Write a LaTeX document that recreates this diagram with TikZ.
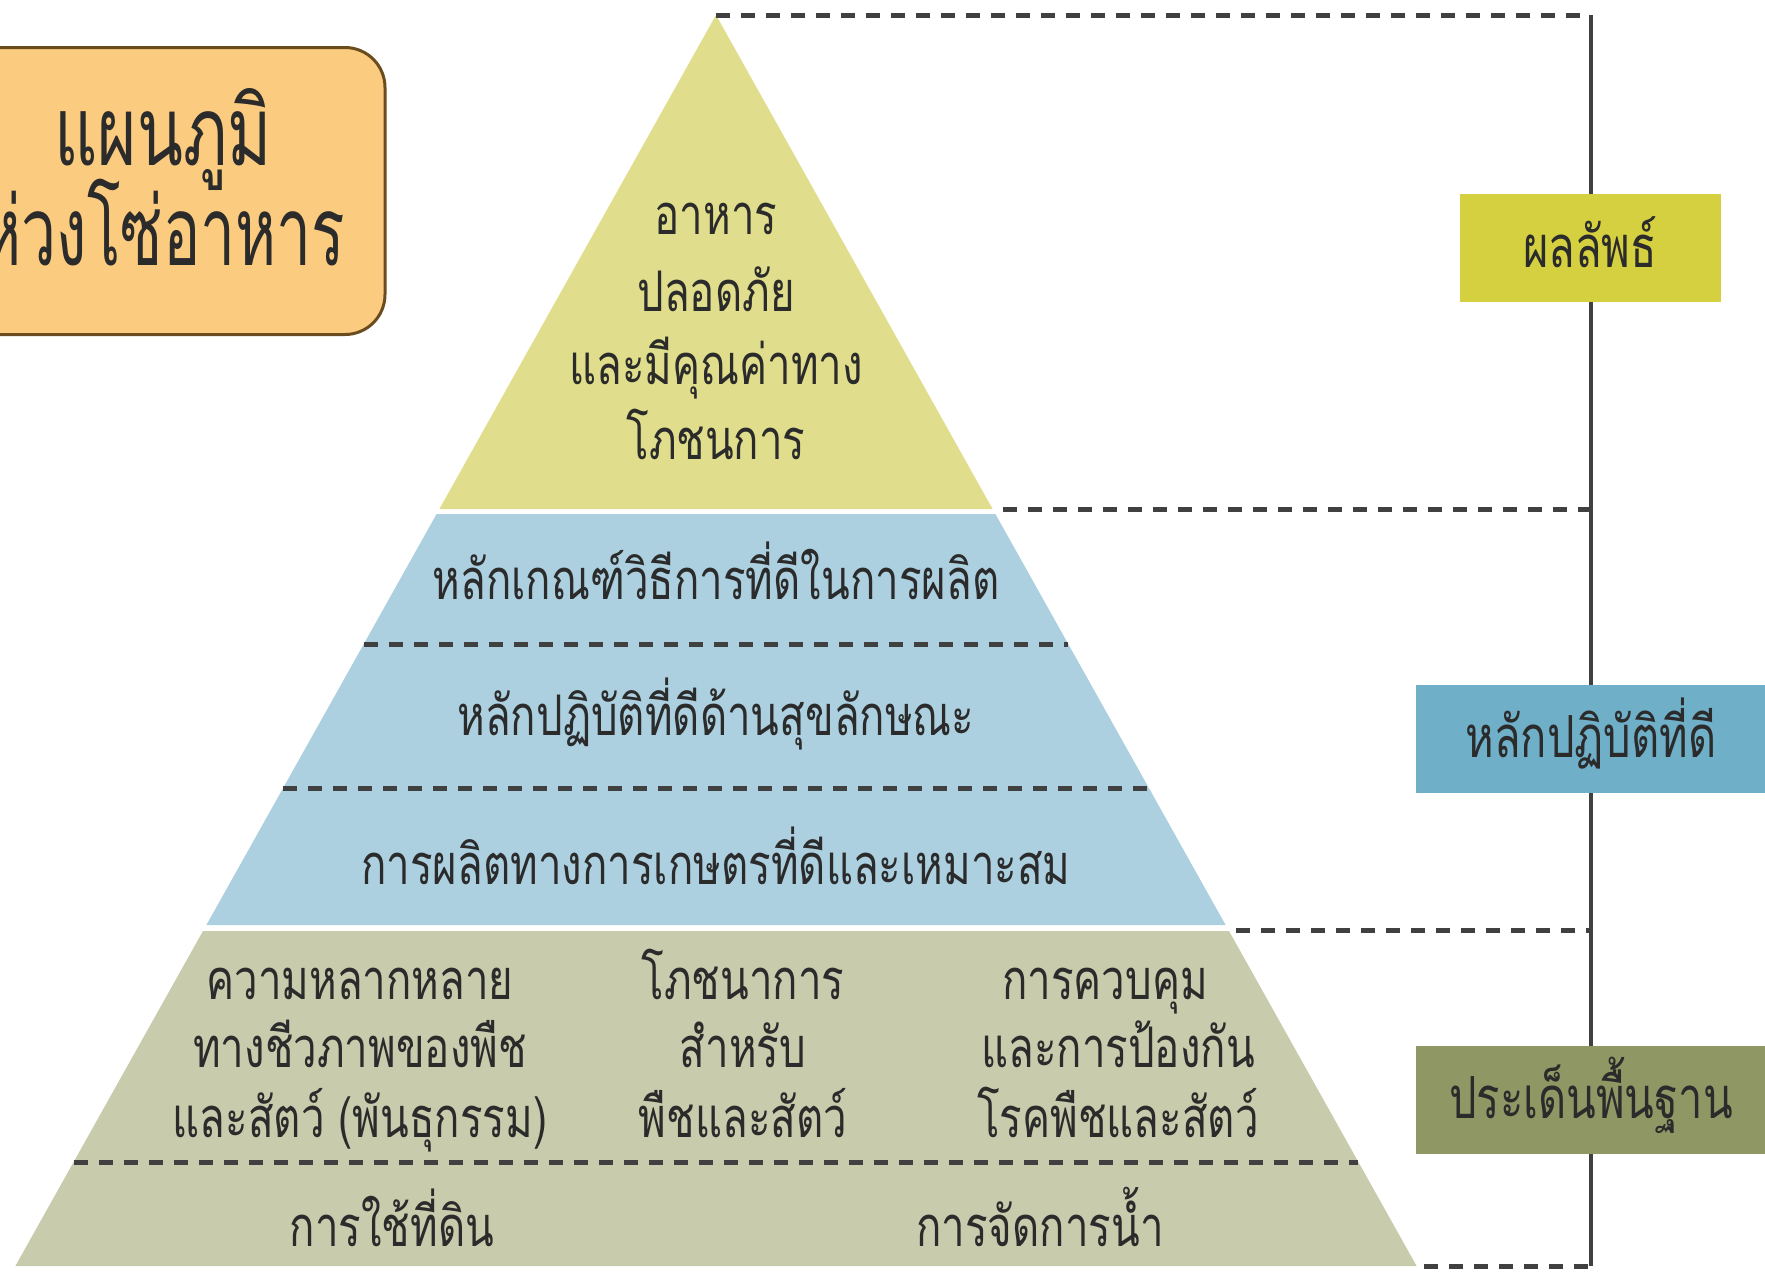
\documentclass[tikz,border=0pt]{standalone}
\usepackage{fontspec}
\newfontfamily\thaibody[Script=Thai,FakeStretch=0.75]{Loma}
\newfontfamily\thaititle[Script=Thai,FakeStretch=0.7]{Loma}
\newfontfamily\thaititlenarrow[Script=Thai,FakeStretch=0.65]{Loma}
\definecolor{ylw}{HTML}{E0DE8C}
\definecolor{blu}{HTML}{ACD0E0}
\definecolor{olv}{HTML}{C8CBAC}
\definecolor{ylwbox}{HTML}{D4D040}
\definecolor{blubox}{HTML}{6FAFC8}
\definecolor{olvbox}{HTML}{8F9864}
\definecolor{ttlfill}{HTML}{FBCC80}
\definecolor{ttlline}{HTML}{6B4C1E}
\definecolor{txt}{HTML}{2B2B2B}
\definecolor{dsh}{HTML}{404040}
\tikzset{
  body/.style={font=\thaibody\fontsize{56}{74}\selectfont, text=txt, anchor=base, inner sep=0pt},
  ttl/.style={font=\thaititle\fontsize{96}{102}\selectfont, text=txt, anchor=base, inner sep=0pt},
  lblbox/.style={minimum height=108pt, inner sep=0pt},
  dline/.style={draw=dsh, line width=5pt, dash pattern=on 14pt off 11pt},
}
\begin{document}
\begin{tikzpicture}[x=1pt,y=-1pt]
\useasboundingbox[fill=white] (0,0) rectangle (1765,1272);
% pyramid bands
\fill[ylw] (716,15) -- (439.4,509) -- (992.6,509) -- cycle;
\fill[blu] (436.6,514) -- (995.4,514) -- (1225.6,925) -- (206.4,925) -- cycle;
\fill[olv] (203,931) -- (1229,931) -- (1416.6,1266) -- (15.4,1266) -- cycle;
% internal dashed lines
\draw[dline] (363.8,644) -- (1068.2,644);
\draw[dline] (283,788) -- (1149,788);
\draw[dline] (73.7,1162) -- (1358.3,1162);
% vertical spine and outer dashed lines
\coordinate (s0) at (1591,15);
\coordinate (s1) at (1591,509);
\coordinate (s2) at (1591,930);
\coordinate (s3) at (1591,1266);
\draw[dsh, line width=4pt] (s0) -- (s3);
\draw[dline] (716,15) -- (s0);
\draw[dline] (1003,509) -- (s1);
\draw[dline] (1236,930) -- (s2);
\draw[dline] (1424,1266) -- (s3);
% title box
\node[draw=ttlline, line width=3pt, fill=ttlfill, rounded corners=40pt,
  minimum width=444pt, minimum height=287pt, inner sep=0pt] (title) at (163,191) {};
\node[ttl] (title1) at (163,165) {แผนภูมิ};
\node[ttl, font=\thaititlenarrow\fontsize{96}{102}\selectfont] (title2) at (163,265) {ห่วงโซ่อาหาร};
% yellow text
\node[body] (food1) at (716,234) {อาหาร};
\node[body] (food2) at (716,311) {ปลอดภัย};
\node[body] (food3) at (716,384) {และมีคุณค่าทาง};
\node[body] (food4) at (716,459) {โภชนการ};
% blue texts
\node[body] (gmp) at (716,599) {หลักเกณฑ์วิธีการที่ดีในการผลิต};
\node[body] (ghp) at (716,735) {หลักปฏิบัติที่ดีด้านสุขลักษณะ};
\node[body] (gap) at (716,884) {การผลิตทางการเกษตรที่ดีและเหมาะสม};
% olive texts
\node[body] (bio1) at (360,999) {ความหลากหลาย};
\node[body] (bio2) at (360,1067) {ทางชีวภาพของพืช};
\node[body] (bio3) at (360,1137) {และสัตว์ (พันธุกรรม)};
\node[body] (nut1) at (743,999) {โภชนาการ};
\node[body] (nut2) at (743,1067) {สำหรับ};
\node[body] (nut3) at (743,1137) {พืชและสัตว์};
\node[body] (ctl1) at (1105,999) {การควบคุม};
\node[body] (ctl2) at (1118,1067) {และการป้องกัน};
\node[body] (ctl3) at (1118,1137) {โรคพืชและสัตว์};
\node[body] (land) at (392,1246) {การใช้ที่ดิน};
\node[body] (water) at (1040,1246) {การจัดการน้ำ};
% right labels
\node[lblbox, fill=ylwbox, minimum width=261pt] (res) at (1590,248) {};
\node[lblbox, fill=blubox, minimum width=350pt] (good) at (1591,739) {};
\node[lblbox, fill=olvbox, minimum width=350pt] (base) at (1591,1100) {};
\node[body, font=\thaibody\fontsize{58}{70}\selectfont] (resT) at (1590,267) {ผลลัพธ์};
\node[body, font=\thaibody\fontsize{58}{70}\selectfont] (goodT) at (1591,757) {หลักปฏิบัติที่ดี};
\node[body, font=\thaibody\fontsize{58}{70}\selectfont] (baseT) at (1591,1118) {ประเด็นพื้นฐาน};
\end{tikzpicture}
\end{document}
